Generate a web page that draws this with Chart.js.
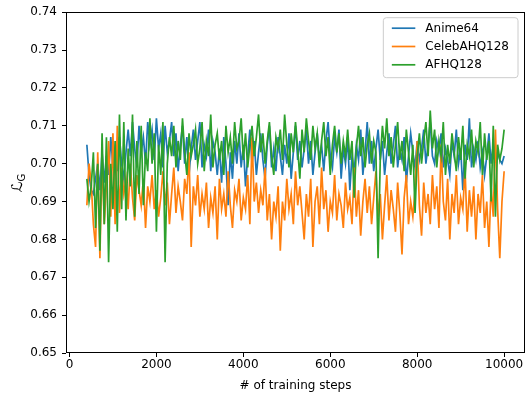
<!DOCTYPE html>
<html>
<head>
<meta charset="utf-8">
<script src="https://cdn.jsdelivr.net/npm/chart.js@4"></script>
<style>
  html, body { margin: 0; padding: 0; background: #fff; }
  #wrap { width: 527px; height: 393px; }
</style>
</head>
<body>
<div id="wrap"><canvas id="loss-chart" width="527" height="393"></canvas></div>
<script>
'use strict';

/* ── データ（50ステップ毎、400〜10000） ─────────────── */
const STEP_START = 400;
const STEP_EVERY = 50;

const ANIME64 = [
  0.705, 0.697, 0.693, 0.692, 0.696, 0.700, 0.693, 0.703, 0.695, 0.702,
  0.697, 0.707, 0.699, 0.704, 0.698, 0.707, 0.700, 0.696, 0.703, 0.709,
  0.702, 0.711, 0.704, 0.699, 0.710, 0.703, 0.707, 0.700, 0.711, 0.705,
  0.709, 0.701, 0.712, 0.704, 0.708, 0.699, 0.710, 0.703, 0.706, 0.711,
  0.702, 0.708, 0.698, 0.705, 0.710, 0.700, 0.707, 0.697, 0.704, 0.709,
  0.701, 0.706, 0.711, 0.699, 0.705, 0.702, 0.709, 0.698, 0.706, 0.703,
  0.697, 0.704, 0.695, 0.707, 0.700, 0.689, 0.703, 0.696, 0.706, 0.700,
  0.708, 0.699, 0.705, 0.694, 0.702, 0.709, 0.700, 0.706, 0.697, 0.703,
  0.708, 0.701, 0.696, 0.705, 0.710, 0.699, 0.704, 0.698, 0.707, 0.702,
  0.697, 0.705, 0.700, 0.708, 0.696, 0.703, 0.710, 0.701, 0.706, 0.699,
  0.704, 0.709, 0.700, 0.706, 0.697, 0.703, 0.708, 0.701, 0.705, 0.698,
  0.706, 0.711, 0.702, 0.699, 0.707, 0.703, 0.709, 0.696, 0.704, 0.700,
  0.707, 0.693, 0.702, 0.698, 0.705, 0.701, 0.709, 0.697, 0.703, 0.711,
  0.700, 0.706, 0.698, 0.704, 0.709, 0.701, 0.706, 0.697, 0.703, 0.708,
  0.700, 0.705, 0.710, 0.699, 0.704, 0.701, 0.707, 0.695, 0.702, 0.708,
  0.703, 0.699, 0.706, 0.701, 0.704, 0.709, 0.700, 0.705, 0.711, 0.702,
  0.700, 0.706, 0.703, 0.708, 0.699, 0.704, 0.701, 0.697, 0.706, 0.702,
  0.709, 0.700, 0.704, 0.693, 0.705, 0.701, 0.712, 0.699, 0.704, 0.701,
  0.706, 0.699, 0.703, 0.697, 0.702, 0.708, 0.700, 0.705, 0.702, 0.703,
  0.701, 0.700, 0.702,
];

const CELEBAHQ128 = [
  0.689, 0.700, 0.695, 0.684, 0.678, 0.703, 0.675, 0.702, 0.684, 0.694,
  0.706, 0.686, 0.708, 0.684, 0.710, 0.687, 0.699, 0.692, 0.696, 0.688,
  0.700, 0.691, 0.685, 0.697, 0.693, 0.689, 0.696, 0.683, 0.694, 0.690,
  0.697, 0.688, 0.693, 0.686, 0.691, 0.698, 0.689, 0.695, 0.684, 0.692,
  0.699, 0.687, 0.694, 0.690, 0.685, 0.696, 0.692, 0.703, 0.678, 0.694,
  0.689, 0.697, 0.686, 0.692, 0.688, 0.695, 0.683, 0.691, 0.687, 0.694,
  0.680, 0.696, 0.688, 0.692, 0.686, 0.698, 0.689, 0.683, 0.693, 0.690,
  0.696, 0.685, 0.691, 0.688, 0.697, 0.684, 0.707, 0.690, 0.695, 0.687,
  0.693, 0.689, 0.699, 0.685, 0.692, 0.680, 0.690, 0.686, 0.694, 0.677,
  0.690, 0.685, 0.696, 0.688, 0.692, 0.684, 0.698, 0.689, 0.694, 0.687,
  0.680, 0.692, 0.686, 0.696, 0.678, 0.690, 0.694, 0.684, 0.699, 0.688,
  0.693, 0.682, 0.690, 0.687, 0.697, 0.685, 0.692, 0.689, 0.683, 0.695,
  0.688, 0.691, 0.684, 0.699, 0.686, 0.693, 0.681, 0.690, 0.696, 0.687,
  0.694, 0.684, 0.691, 0.698, 0.686, 0.692, 0.680, 0.689, 0.697, 0.685,
  0.693, 0.688, 0.682, 0.695, 0.687, 0.676, 0.691, 0.697, 0.684, 0.690,
  0.686, 0.693, 0.706, 0.689, 0.681, 0.695, 0.687, 0.692, 0.684, 0.697,
  0.688, 0.694, 0.683, 0.705, 0.690, 0.685, 0.696, 0.680, 0.692, 0.687,
  0.697, 0.684, 0.691, 0.688, 0.699, 0.682, 0.693, 0.686, 0.694, 0.680,
  0.692, 0.687, 0.697, 0.683, 0.690, 0.678, 0.694, 0.686, 0.709, 0.688,
  0.675, 0.690, 0.698,
];

const AFHQ128 = [
  0.696, 0.690, 0.694, 0.703, 0.683, 0.700, 0.677, 0.708, 0.684, 0.707,
  0.674, 0.700, 0.688, 0.706, 0.682, 0.713, 0.688, 0.711, 0.685, 0.704,
  0.694, 0.713, 0.686, 0.706, 0.692, 0.710, 0.689, 0.703, 0.698, 0.712,
  0.700, 0.708, 0.682, 0.705, 0.697, 0.711, 0.674, 0.700, 0.707, 0.702,
  0.710, 0.699, 0.706, 0.701, 0.712, 0.703, 0.697, 0.708, 0.702, 0.705,
  0.709, 0.700, 0.704, 0.711, 0.698, 0.706, 0.702, 0.713, 0.699, 0.705,
  0.708, 0.701, 0.706, 0.697, 0.710, 0.703, 0.707, 0.700, 0.711, 0.704,
  0.706, 0.712, 0.701, 0.708, 0.699, 0.705, 0.710, 0.702, 0.707, 0.713,
  0.703, 0.708, 0.700, 0.706, 0.711, 0.702, 0.697, 0.707, 0.704, 0.709,
  0.701, 0.713, 0.705, 0.699, 0.708, 0.703, 0.711, 0.704, 0.696, 0.709,
  0.703, 0.712, 0.706, 0.701, 0.710, 0.704, 0.708, 0.699, 0.706, 0.711,
  0.702, 0.707, 0.697, 0.705, 0.710, 0.703, 0.708, 0.700, 0.706, 0.702,
  0.709, 0.701, 0.706, 0.691, 0.704, 0.710, 0.702, 0.707, 0.699, 0.705,
  0.708, 0.700, 0.706, 0.703, 0.675, 0.701, 0.710, 0.704, 0.712, 0.702,
  0.707, 0.699, 0.705, 0.711, 0.701, 0.706, 0.698, 0.709, 0.703, 0.697,
  0.705, 0.687, 0.702, 0.708, 0.700, 0.706, 0.711, 0.702, 0.714, 0.704,
  0.709, 0.699, 0.706, 0.702, 0.711, 0.697, 0.705, 0.700, 0.708, 0.703,
  0.698, 0.707, 0.701, 0.710, 0.696, 0.705, 0.702, 0.709, 0.699, 0.706,
  0.703, 0.711, 0.697, 0.708, 0.701, 0.706, 0.690, 0.710, 0.686, 0.705,
  0.701, 0.704, 0.709,
];

const SERIES_LABELS = ['Anime64', 'CelebAHQ128', 'AFHQ128'];
const X_TICKS = [0, 2000, 4000, 6000, 8000, 10000];
const Y_TICKS = [0.65, 0.66, 0.67, 0.68, 0.69, 0.70, 0.71, 0.72, 0.73, 0.74];

/* ── 見た目 ─────────────────────────────── */
const FONT = "'DejaVu Sans', sans-serif";
const FONT_PX = 12;
const COLORS = ['#1f77b4', '#ff7f0e', '#2ca02c'];

const toPoints = vals => vals.map((v, i) => ({ x: STEP_START + i * STEP_EVERY, y: v }));

// 枠線（上下左右）
const framePlugin = {
  id: 'frame',
  afterDatasetsDraw(chart) {
    const { ctx, chartArea: a } = chart;
    ctx.save();
    ctx.strokeStyle = '#000';
    ctx.lineWidth = 1;
    ctx.strokeRect(Math.round(a.left) + 0.5, Math.round(a.top) + 0.5,
      Math.round(a.right - a.left) - 1, Math.round(a.bottom - a.top) - 1);
    ctx.restore();
  },
};

// 凡例（右上、角丸枠）
const legendPlugin = {
  id: 'mplLegend',
  afterDraw(chart) {
    const { ctx, chartArea: a } = chart;
    const sets = chart.data.datasets;
    ctx.save();
    ctx.font = `${FONT_PX}px ${FONT}`;
    const maxW = Math.max(...sets.map(d => ctx.measureText(d.label).width));
    const w = 42 + maxW + 9, h = 60, rowH = 18.3;
    const x = a.right - 7 - w, y = a.top + 5.5;
    ctx.beginPath();
    ctx.roundRect(x, y, w, h, 3);
    ctx.fillStyle = 'rgba(255,255,255,0.8)';
    ctx.fill();
    ctx.strokeStyle = '#cccccc';
    ctx.lineWidth = 1;
    ctx.stroke();
    ctx.textBaseline = 'middle';
    sets.forEach((d, i) => {
      const cy = y + 10.5 + i * rowH;
      ctx.strokeStyle = d.borderColor;
      ctx.lineWidth = 1.7;
      ctx.beginPath();
      ctx.moveTo(x + 8.5, cy);
      ctx.lineTo(x + 32, cy);
      ctx.stroke();
      ctx.fillStyle = '#000';
      ctx.fillText(d.label, x + 42, cy + 0.5);
    });
    ctx.restore();
  },
};

// y軸ラベル  ℒ_G
const yTitlePlugin = {
  id: 'yTitle',
  afterDraw(chart) {
    const { ctx, chartArea: a } = chart;
    const cy = (a.top + a.bottom) / 2;
    const big = `15px ${FONT}`, small = `10px ${FONT}`;
    ctx.save();
    ctx.translate(22, cy);
    ctx.rotate(-Math.PI / 2);
    ctx.fillStyle = '#000';
    ctx.textBaseline = 'alphabetic';
    ctx.font = big;
    const wL = ctx.measureText('ℒ').width;
    ctx.font = small;
    const wG = ctx.measureText('G').width;
    const x0 = -(wL + wG) / 2;
    ctx.font = big;
    ctx.fillText('ℒ', x0, 0);
    ctx.font = small;
    ctx.fillText('G', x0 + wL - 0.5, 2.5);
    ctx.restore();
  },
};

const tickGrid = { display: true, drawOnChartArea: false, drawTicks: true, tickLength: 4, color: '#000', lineWidth: 1 };

new Chart(document.getElementById('loss-chart'), {
  type: 'line',
  data: {
    datasets: [ANIME64, CELEBAHQ128, AFHQ128].map((vals, i) => ({
      label: SERIES_LABELS[i],
      data: toPoints(vals),
      borderColor: COLORS[i],
      backgroundColor: COLORS[i],
      borderWidth: 1.7,
      pointRadius: 0,
      tension: 0,
      order: 2 - i,
    })),
  },
  options: {
    responsive: false,
    animation: false,
    layout: { padding: { top: 11, right: 2, left: 0, bottom: 0 } },
    plugins: { legend: { display: false }, tooltip: { enabled: false } },
    scales: {
      x: {
        type: 'linear',
        min: -80,
        max: 10480,
        afterBuildTicks: s => { s.ticks = X_TICKS.map(v => ({ value: v })); },
        afterFit: s => { s.height = 40; },
        grid: tickGrid,
        border: { display: false },
        ticks: { color: '#000', font: { family: FONT, size: FONT_PX }, padding: 1, maxRotation: 0,
                 callback: v => String(v) },
        title: { display: true, text: '# of training steps', color: '#000',
                 font: { family: FONT, size: FONT_PX }, padding: { top: 0, bottom: 0 } },
      },
      y: {
        min: 0.65,
        max: 0.74,
        afterBuildTicks: s => { s.ticks = Y_TICKS.map(v => ({ value: v })); },
        afterFit: s => { s.width = 66; },
        grid: tickGrid,
        border: { display: false },
        ticks: { color: '#000', font: { family: FONT, size: FONT_PX }, padding: 5,
                 callback: v => v.toFixed(2) },
      },
    },
  },
  plugins: [framePlugin, legendPlugin, yTitlePlugin],
});
</script>
</body>
</html>
